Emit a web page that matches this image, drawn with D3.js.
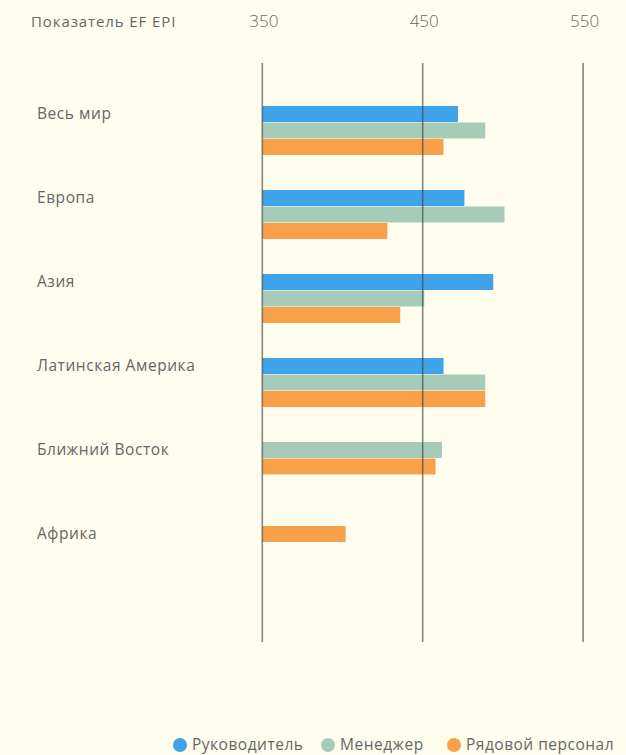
<!DOCTYPE html>
<html>
<head>
<meta charset="utf-8">
<script src="https://cdn.jsdelivr.net/npm/d3@7"></script>
<style>
  body { margin: 0; background: #fffeee; }
  svg { display: block; font-family: "Open Sans", Roboto, sans-serif; }
</style>
</head>
<body>
<div class="chart"></div>
<script>
// data
const regions = ["Весь мир", "Европа", "Азия", "Латинская Америка", "Ближний Восток", "Африка"];
const seriesNames = ["Руководитель", "Менеджер", "Рядовой персонал"];
const leaderVals = [472, 476, 494, 463, null, null];
const managerVals = [489, 501, 451, 489, 462, null];
const staffVals = [463, 428, 436, 489, 458, 402];
const tickVals = [350, 450, 550];
const colors = ["#3ea3e8", "#a6cbb9", "#f9a04b"];

const width = 626, height = 755;
const svg = d3.select(".chart").append("svg")
  .attr("width", width).attr("height", height);

const xScale = d3.scaleLinear()
  .domain([350, 550])
  .range([262.3, 583.1]);

const yScale = d3.scaleBand()
  .domain(regions)
  .range([106, 610])
  .paddingInner(0)

const barH = 16.5;
const allVals = [leaderVals, managerVals, staffVals];

// bars: missing series collapse to the top of the group
regions.forEach((r, i) => {
  const present = allVals
    .map((vals, s) => ({ s, v: vals[i] }))
    .filter(d => d.v != null);
  svg.selectAll(null)
    .data(present)
    .enter()
    .append("rect")
    .attr("x", xScale(350))
    .attr("y", (d, k) => yScale(r) + k * barH)
    .attr("width", d => xScale(d.v) - xScale(350))
    .attr("height", barH - 0.5)
    .attr("fill", d => colors[d.s]);

  svg.append("text")
    .attr("x", 37)
    .attr("y", yScale(r) + 8)
    .attr("dy", "0.35em")
    .attr("fill", "#666")
    .attr("font-size", 15.5)
    .attr("letter-spacing", 0.55)
    .text(r);
});

// gridlines on top of bars
svg.selectAll(".grid")
  .data(tickVals)
  .enter()
  .append("line")
  .attr("class", "grid")
  .attr("x1", d => xScale(d)).attr("x2", d => xScale(d))
  .attr("y1", 63).attr("y2", 642)
  .attr("stroke", "#444")
  .attr("stroke-opacity", 0.65)
  .attr("stroke-width", 1.6);

// top axis labels
svg.selectAll(".tick-label")
  .data(tickVals)
  .enter()
  .append("text")
  .attr("x", d => xScale(d) + 1.5)
  .attr("y", 21)
  .attr("dy", "0.35em")
  .attr("text-anchor", "middle")
  .attr("fill", "#666")
  .attr("font-size", 17)
  .attr("font-weight", 300)
  .text(d => d);

svg.append("text")
  .attr("x", 31)
  .attr("y", 22)
  .attr("dy", "0.35em")
  .attr("fill", "#666")
  .attr("font-size", 15)
  .attr("letter-spacing", 0.9)
  .text("Показатель EF EPI");

// legend
const legendX = [180, 328, 454];
const legend = svg.selectAll(".legend")
  .data(seriesNames)
  .enter()
  .append("g")
  .attr("transform", (d, i) => `translate(${legendX[i]},745)`);

legend.append("circle")
  .attr("r", 7)
  .attr("fill", (d, i) => colors[i]);

legend.append("text")
  .attr("x", 12)
  .attr("dy", "0.35em")
  .attr("fill", "#666")
  .attr("font-size", 15.5)
  .attr("letter-spacing", 0.5)
  .text(d => d);
</script>
</body>
</html>
